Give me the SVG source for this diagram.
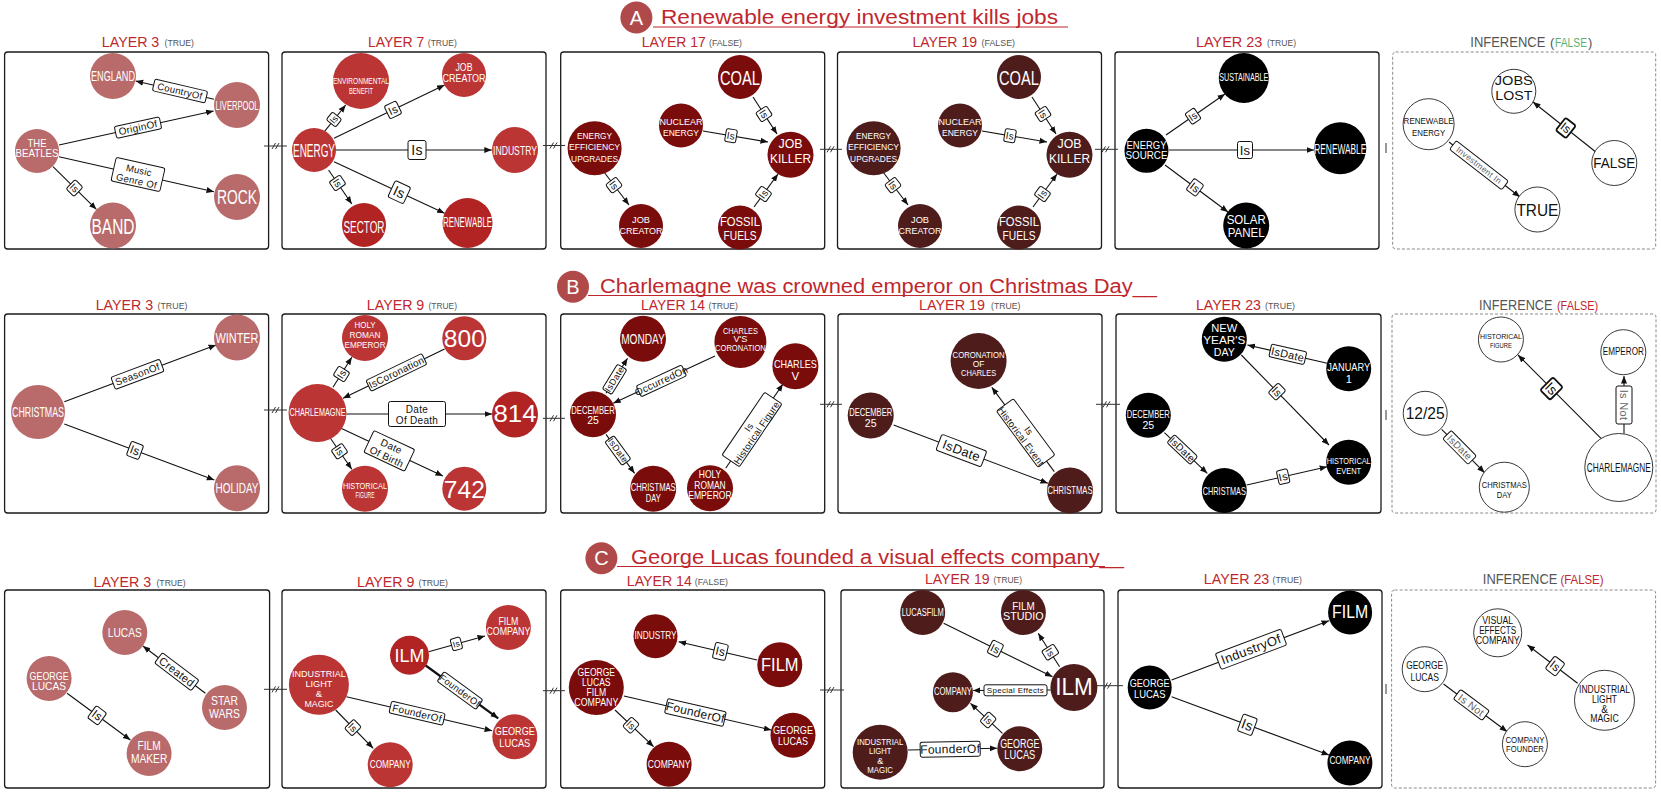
<svg xmlns="http://www.w3.org/2000/svg" width="1661" height="804" viewBox="0 0 1661 804">
<defs>
<marker id="ah" markerUnits="userSpaceOnUse" markerWidth="8" markerHeight="7" refX="7.5" refY="3.5" orient="auto"><path d="M0,0.5 L7.5,3.5 L0,6.5 z" fill="#111"/></marker>
<style>
text{font-family:"Liberation Sans",Arial,sans-serif}
.pn{fill:#fff;stroke:#1a1a1a;stroke-width:1.3}
.pi{fill:#fff;stroke:#8a8a8a;stroke-width:1;stroke-dasharray:3 2}
.e{stroke:#111;stroke-width:1.1;fill:none;marker-end:url(#ah)}
.eb{stroke-width:2.2}
.lb rect{fill:#fff;stroke:#111;stroke-width:1}
.lb text{fill:#111;text-anchor:middle;dominant-baseline:central;letter-spacing:0.3px}
.lg text{fill:#666}
.lk rect{stroke-width:1.8}
.n text{fill:#fff;text-anchor:middle}
.c3 circle{fill:#b96b6b}
.c9 circle{fill:#bb3535}
.c9d circle{fill:#b22424}
.c14 circle{fill:#7b0c0c}
.c19 circle{fill:#4f1c1c}
.c23 circle{fill:#000}
.ci circle{fill:#fff;stroke:#222;stroke-width:0.9}
.ci text{fill:#111}
.lt{fill:#c0272d;font-size:15px}
.st{fill:#555;font-size:9px}
.inf{fill:#555;font-size:15px}
.hd{fill:#c0272d;font-size:19.5px}
.ul{stroke:#c0272d;stroke-width:1.2}
.bd circle{fill:#b04a4a}
.bd text{fill:#fff;font-size:20px;text-anchor:middle}
.sep{stroke:#333;stroke-width:1;fill:none}
</style>
</defs>
<rect width="1661" height="804" fill="#fff"/>

<g id="headings">
<g class="bd"><circle cx="636.4" cy="17.5" r="16"/><text x="636.4" y="24.5">A</text></g>
<text class="hd" x="661" y="24" textLength="397" lengthAdjust="spacingAndGlyphs">Renewable energy investment kills jobs</text>
<line class="ul" x1="653" y1="27" x2="1068" y2="27"/>
<g class="bd"><circle cx="573" cy="286.7" r="16"/><text x="573" y="293.7">B</text></g>
<text class="hd" x="600" y="293" textLength="557" lengthAdjust="spacingAndGlyphs">Charlemagne was crowned emperor on Christmas Day__</text>
<line class="ul" x1="588" y1="295.5" x2="1127" y2="295.5"/>
<g class="bd"><circle cx="601.4" cy="558.3" r="16"/><text x="601.4" y="565.3">C</text></g>
<text class="hd" x="631" y="564" textLength="493" lengthAdjust="spacingAndGlyphs">George Lucas founded a visual effects company__</text>
<line class="ul" x1="617" y1="566.5" x2="1105" y2="566.5"/>
</g>

<g id="titles">
<text class="lt" x="101.8" y="47" textLength="57.5" lengthAdjust="spacingAndGlyphs">LAYER 3</text><text class="st" x="164.5" y="46" textLength="29.5" lengthAdjust="spacingAndGlyphs">(TRUE)</text>
<text class="lt" x="367.9" y="47" textLength="56.5" lengthAdjust="spacingAndGlyphs">LAYER 7</text><text class="st" x="427.8" y="46" textLength="29" lengthAdjust="spacingAndGlyphs">(TRUE)</text>
<text class="lt" x="641.8" y="47" textLength="64" lengthAdjust="spacingAndGlyphs">LAYER 17</text><text class="st" x="709" y="46" textLength="33" lengthAdjust="spacingAndGlyphs">(FALSE)</text>
<text class="lt" x="912.5" y="47" textLength="64.5" lengthAdjust="spacingAndGlyphs">LAYER 19</text><text class="st" x="981.5" y="46" textLength="33.5" lengthAdjust="spacingAndGlyphs">(FALSE)</text>
<text class="lt" x="1195.9" y="47" textLength="66.5" lengthAdjust="spacingAndGlyphs">LAYER 23</text><text class="st" x="1267" y="46" textLength="29" lengthAdjust="spacingAndGlyphs">(TRUE)</text>
<text class="inf" x="1470.3" y="47" textLength="75" lengthAdjust="spacingAndGlyphs">INFERENCE</text>
<text x="1550" y="47" font-size="13" fill="#555">(</text>
<text x="1555" y="47" font-size="13" fill="#5cb270" textLength="32" lengthAdjust="spacingAndGlyphs">FALSE</text>
<text x="1588" y="47" font-size="13" fill="#555">)</text>

<text class="lt" x="95.7" y="309.5" textLength="57.5" lengthAdjust="spacingAndGlyphs">LAYER 3</text><text class="st" x="157.5" y="308.5" textLength="30" lengthAdjust="spacingAndGlyphs">(TRUE)</text>
<text class="lt" x="366.8" y="309.5" textLength="57.5" lengthAdjust="spacingAndGlyphs">LAYER 9</text><text class="st" x="428.5" y="308.5" textLength="28.5" lengthAdjust="spacingAndGlyphs">(TRUE)</text>
<text class="lt" x="641" y="309.5" textLength="64" lengthAdjust="spacingAndGlyphs">LAYER 14</text><text class="st" x="708.5" y="308.5" textLength="29.5" lengthAdjust="spacingAndGlyphs">(TRUE)</text>
<text class="lt" x="919" y="309.5" textLength="66" lengthAdjust="spacingAndGlyphs">LAYER 19</text><text class="st" x="991" y="308.5" textLength="29.4" lengthAdjust="spacingAndGlyphs">(TRUE)</text>
<text class="lt" x="1195.9" y="309.5" textLength="65" lengthAdjust="spacingAndGlyphs">LAYER 23</text><text class="st" x="1265" y="308.5" textLength="30" lengthAdjust="spacingAndGlyphs">(TRUE)</text>
<text class="inf" x="1479" y="309.5" textLength="73.5" lengthAdjust="spacingAndGlyphs">INFERENCE</text>
<text x="1557" y="309.5" font-size="13" fill="#c0272d" textLength="41" lengthAdjust="spacingAndGlyphs">(FALSE)</text>

<text class="lt" x="93.6" y="587" textLength="57.5" lengthAdjust="spacingAndGlyphs">LAYER 3</text><text class="st" x="156.5" y="586" textLength="29.2" lengthAdjust="spacingAndGlyphs">(TRUE)</text>
<text class="lt" x="357" y="587" textLength="57.5" lengthAdjust="spacingAndGlyphs">LAYER 9</text><text class="st" x="418.5" y="586" textLength="29.5" lengthAdjust="spacingAndGlyphs">(TRUE)</text>
<text class="lt" x="626.8" y="586" textLength="65" lengthAdjust="spacingAndGlyphs">LAYER 14</text><text class="st" x="694.8" y="585" textLength="33.2" lengthAdjust="spacingAndGlyphs">(FALSE)</text>
<text class="lt" x="925" y="583.5" textLength="64.5" lengthAdjust="spacingAndGlyphs">LAYER 19</text><text class="st" x="993.5" y="582.5" textLength="28.5" lengthAdjust="spacingAndGlyphs">(TRUE)</text>
<text class="lt" x="1203.8" y="583.5" textLength="65.5" lengthAdjust="spacingAndGlyphs">LAYER 23</text><text class="st" x="1272.5" y="582.5" textLength="29.5" lengthAdjust="spacingAndGlyphs">(TRUE)</text>
<text class="inf" x="1482.8" y="583.5" textLength="74.5" lengthAdjust="spacingAndGlyphs">INFERENCE</text>
<text x="1560.5" y="583.5" font-size="13" fill="#c0272d" textLength="43" lengthAdjust="spacingAndGlyphs">(FALSE)</text>
</g>

<g id="panels">
<rect class="pn" x="4.6" y="52" width="264" height="197" rx="3"/>
<rect class="pn" x="282" y="52" width="264" height="197" rx="3"/>
<rect class="pn" x="560.7" y="52" width="264" height="197" rx="3"/>
<rect class="pn" x="837.5" y="52" width="264" height="197" rx="3"/>
<rect class="pn" x="1115" y="52" width="264" height="197" rx="3"/>
<rect class="pi" x="1392.7" y="52" width="263" height="197" rx="3"/>
<rect class="pn" x="4.6" y="314" width="264" height="199" rx="3"/>
<rect class="pn" x="282" y="314" width="264" height="199" rx="3"/>
<rect class="pn" x="560.7" y="314" width="264" height="199" rx="3"/>
<rect class="pn" x="838" y="314" width="264" height="199" rx="3"/>
<rect class="pn" x="1116" y="314" width="265" height="199" rx="3"/>
<rect class="pi" x="1392" y="314" width="264" height="199" rx="3"/>
<rect class="pn" x="4.6" y="590" width="265" height="198" rx="3"/>
<rect class="pn" x="282" y="590" width="264" height="198" rx="3"/>
<rect class="pn" x="560.7" y="590" width="264" height="198" rx="3"/>
<rect class="pn" x="841" y="590" width="263" height="198" rx="3"/>
<rect class="pn" x="1118" y="590" width="264" height="198" rx="3"/>
<rect class="pi" x="1391.6" y="590" width="264" height="198" rx="3"/>
</g>

<g id="separators" class="sep">
<path d="M264,146H287M272,149L275.5,143M275.5,149L279,143"/>
<path d="M543,145.5H565M550,148.5L553.5,142.5M553.5,148.5L557,142.5"/>
<path d="M820,149.3H842M827,152.3L830.5,146.3M830.5,152.3L834,146.3"/>
<path d="M1095,149.3H1118M1102,152.3L1105.5,146.3M1105.5,152.3L1109,146.3"/>
<path d="M1386,143V153"/>
<path d="M264,410H287M272,413L275.5,407M275.5,413L279,407"/>
<path d="M543,418.3H565M550,421.3L553.5,415.3M553.5,421.3L557,415.3"/>
<path d="M820,404.3H842M827,407.3L830.5,401.3M830.5,407.3L834,401.3"/>
<path d="M1096,404.3H1120M1103,407.3L1106.5,401.3M1106.5,407.3L1110,401.3"/>
<path d="M1386,410V420"/>
<path d="M264,689.3H287M272,692.3L275.5,686.3M275.5,692.3L279,686.3"/>
<path d="M543,690.7H565M550,693.7L553.5,687.7M553.5,693.7L557,687.7"/>
<path d="M820,690H844M827,693L830.5,687M830.5,693L834,687"/>
<path d="M1097,685.7H1123M1104,688.7L1107.5,682.7M1107.5,688.7L1111,682.7"/>
<path d="M1386,684V694"/>
</g>

<g id="connectors">
<line class="e" x1="214" y1="99.3" x2="135.7" y2="81"/>
<line class="e" x1="59" y1="145" x2="213.6" y2="111"/>
<line class="e" x1="59" y1="156.7" x2="214" y2="191.7"/>
<line class="e" x1="53" y1="166.7" x2="96.4" y2="209.3"/>
<line class="e" x1="323" y1="133.3" x2="345.7" y2="105"/>
<line class="e" x1="334" y1="138.3" x2="444.6" y2="85"/>
<line class="e" x1="335.7" y1="150" x2="491.8" y2="150"/>
<line class="e" x1="328.6" y1="170" x2="351.8" y2="204"/>
<line class="e" x1="334" y1="161.7" x2="444.6" y2="213.3"/>
<line class="e" x1="753" y1="97" x2="777" y2="134"/>
<line class="e" x1="703" y1="131" x2="768" y2="142"/>
<line class="e" x1="754" y1="207" x2="778" y2="174"/>
<line class="e" x1="604" y1="172" x2="629" y2="205"/>
<line class="e" x1="1032" y1="97" x2="1056" y2="134"/>
<line class="e" x1="982" y1="131" x2="1047" y2="142"/>
<line class="e" x1="1033" y1="207" x2="1057" y2="174"/>
<line class="e" x1="883" y1="172" x2="908" y2="205"/>
<line class="e" x1="1166" y1="135" x2="1225" y2="94"/>
<line class="e" x1="1169" y1="150" x2="1314" y2="150"/>
<line class="e" x1="1165" y1="165" x2="1228" y2="212"/>
<line class="e" x1="1595.5" y1="151.7" x2="1533" y2="102"/>
<line class="e" x1="1449" y1="142" x2="1520" y2="197"/>

<line class="e" x1="64.3" y1="401.7" x2="216" y2="345"/>
<line class="e" x1="64.3" y1="424" x2="214.3" y2="480"/>
<line class="e" x1="333" y1="387.3" x2="351.8" y2="357.3"/>
<line class="e" x1="444.6" y1="349" x2="343" y2="398.3"/>
<line class="e" x1="346.4" y1="414" x2="492.1" y2="414"/>
<line class="e" x1="341" y1="428.3" x2="442.9" y2="476"/>
<line class="e" x1="330.4" y1="438.3" x2="351.8" y2="469.3"/>
<line class="e" x1="606" y1="393.3" x2="627.5" y2="358.3"/>
<line class="e" x1="715" y1="356" x2="613.2" y2="403.3"/>
<line class="e" x1="606" y1="434.3" x2="634.6" y2="473.3"/>
<line class="e" x1="725.7" y1="468.3" x2="782.9" y2="384"/>
<line class="e" x1="893.6" y1="425" x2="1047.9" y2="483.3"/>
<line class="e" x1="1054.3" y1="471.7" x2="991.8" y2="387.3"/>
<line class="e" x1="1327.2" y1="363.3" x2="1247.4" y2="345"/>
<line class="e" x1="1241.3" y1="355" x2="1329" y2="445"/>
<line class="e" x1="1164.4" y1="432.7" x2="1207.3" y2="473.3"/>
<line class="e" x1="1246.7" y1="485" x2="1327.2" y2="466.7"/>
<line class="e" x1="1601" y1="438.3" x2="1518" y2="355"/>
<line class="e" x1="1624" y1="433.5" x2="1624" y2="376"/>
<line class="e" x1="1441.7" y1="429.3" x2="1484.6" y2="472.7"/>

<line class="e" x1="205.4" y1="693.3" x2="142.9" y2="646"/>
<line class="e" x1="67.1" y1="693.3" x2="130.4" y2="740"/>
<line class="e" x1="428.6" y1="651.7" x2="485" y2="636"/>
<line class="e eb" x1="425" y1="665" x2="498.2" y2="718.3"/>
<line class="e" x1="346.4" y1="696.7" x2="492.1" y2="730.7"/>
<line class="e" x1="335.7" y1="710" x2="373.2" y2="748.3"/>
<line class="e" x1="757.1" y1="660" x2="678.6" y2="641.7"/>
<line class="e" x1="623.9" y1="696" x2="771.4" y2="730"/>
<line class="e" x1="615" y1="710" x2="653.6" y2="746.7"/>
<line class="e" x1="943.6" y1="623.3" x2="1052.5" y2="676.7"/>
<line class="e" x1="1059.6" y1="666.7" x2="1038.2" y2="633.3"/>
<line class="e" x1="1050.7" y1="690" x2="972.9" y2="690.5"/>
<line class="e" x1="1002.5" y1="733.3" x2="970.4" y2="703.3"/>
<line class="e" x1="907.9" y1="750" x2="997.1" y2="748.3"/>
<line class="e" x1="1171.6" y1="680" x2="1329" y2="620.7"/>
<line class="e" x1="1171.6" y1="696.7" x2="1329" y2="755"/>
<line class="e" x1="1577.6" y1="683.3" x2="1527.5" y2="645"/>
<line class="e" x1="1443.5" y1="684" x2="1507.2" y2="731.7"/>

<g class="lb" transform="translate(180,91) rotate(13.2)"><rect x="-27" y="-6" width="54" height="12" rx="2"/><text font-size="9.5">CountryOf</text></g>
<g class="lb" transform="translate(138,127.6) rotate(-12.4)"><rect x="-23" y="-6" width="46" height="12" rx="2"/><text font-size="10">OriginOf</text></g>
<g class="lb" transform="translate(138,174.5) rotate(12.7)"><rect x="-25" y="-12" width="50" height="24" rx="2"/><text font-size="9.5"><tspan x="0" y="-5">Music</tspan><tspan x="0" y="6">Genre Of</tspan></text></g>
<g class="lb" transform="translate(74.5,188) rotate(44.4)"><rect x="-5.5" y="-6.5" width="11" height="13" rx="2"/><text font-size="10">Is</text></g>
<g class="lb" transform="translate(334,119.5) rotate(-51.3)"><rect x="-5" y="-6" width="10" height="12" rx="2"/><text font-size="9">Is</text></g>
<g class="lb" transform="translate(393,109.9) rotate(-25.7)"><rect x="-6.5" y="-7" width="13" height="14" rx="2"/><text font-size="11">Is</text></g>
<g class="lb" transform="translate(417,150)"><rect x="-9" y="-9.5" width="18" height="19" rx="2"/><text font-size="14">Is</text></g>
<g class="lb" transform="translate(337.5,183) rotate(55.7)"><rect x="-5.5" y="-6.5" width="11" height="13" rx="2"/><text font-size="10">Is</text></g>
<g class="lb" transform="translate(399.3,192.2) rotate(25)"><rect x="-8.5" y="-9" width="17" height="18" rx="2"/><text font-size="14">Is</text></g>
<g class="lb" transform="translate(764,114) rotate(57)"><rect x="-5.5" y="-6.5" width="11" height="13" rx="2"/><text font-size="10">Is</text></g>
<g class="lb" transform="translate(731,135.7) rotate(9.6)"><rect x="-5.5" y="-6.5" width="11" height="13" rx="2"/><text font-size="10">Is</text></g>
<g class="lb" transform="translate(763.5,194) rotate(-54)"><rect x="-5.5" y="-6.5" width="11" height="13" rx="2"/><text font-size="10">Is</text></g>
<g class="lb" transform="translate(614,185.2) rotate(52.9)"><rect x="-5.5" y="-6.5" width="11" height="13" rx="2"/><text font-size="10">Is</text></g>
<g class="lb" transform="translate(1043,114) rotate(57)"><rect x="-5.5" y="-6.5" width="11" height="13" rx="2"/><text font-size="10">Is</text></g>
<g class="lb" transform="translate(1010,135.7) rotate(9.6)"><rect x="-5.5" y="-6.5" width="11" height="13" rx="2"/><text font-size="10">Is</text></g>
<g class="lb" transform="translate(1042.5,194) rotate(-54)"><rect x="-5.5" y="-6.5" width="11" height="13" rx="2"/><text font-size="10">Is</text></g>
<g class="lb" transform="translate(893,185.2) rotate(52.9)"><rect x="-5.5" y="-6.5" width="11" height="13" rx="2"/><text font-size="10">Is</text></g>
<g class="lb" transform="translate(1193,116.2) rotate(-34.8)"><rect x="-5.5" y="-6.5" width="11" height="13" rx="2"/><text font-size="10">Is</text></g>
<g class="lb" transform="translate(1245,150)"><rect x="-7.5" y="-8.5" width="15" height="17" rx="2"/><text font-size="13">Is</text></g>
<g class="lb" transform="translate(1195,187.4) rotate(36.7)"><rect x="-6" y="-7" width="12" height="14" rx="2"/><text font-size="11">Is</text></g>
<g class="lb lk" transform="translate(1565.8,128) rotate(38.5)"><rect x="-6.5" y="-8" width="13" height="16" rx="2"/><text font-size="12">Is</text></g>
<g class="lb lg" transform="translate(1479,165.2) rotate(37.8)"><rect x="-33" y="-5.5" width="66" height="11" rx="2"/><text font-size="8.5">Investment In</text></g>

<g class="lb" transform="translate(137.5,374.3) rotate(-20.5)"><rect x="-26" y="-6.5" width="52" height="13" rx="2"/><text font-size="10">SeasonOf</text></g>
<g class="lb" transform="translate(135,450.4) rotate(20.5)"><rect x="-6.5" y="-7.5" width="13" height="15" rx="2"/><text font-size="12">Is</text></g>
<g class="lb" transform="translate(341.5,374) rotate(-57.9)"><rect x="-5.5" y="-6.5" width="11" height="13" rx="2"/><text font-size="10">Is</text></g>
<g class="lb" transform="translate(396.4,372.4) rotate(-25.9)"><rect x="-31" y="-6" width="62" height="12" rx="2"/><text font-size="10">IsCoronation</text></g>
<g class="lb" transform="translate(417,414)"><rect x="-28.5" y="-12.5" width="57" height="25" rx="2"/><text font-size="10"><tspan x="0" y="-5.5">Date</tspan><tspan x="0" y="6">Of Death</tspan></text></g>
<g class="lb" transform="translate(389.3,450.9) rotate(25.1)"><rect x="-22.5" y="-12" width="45" height="24" rx="2"/><text font-size="10"><tspan x="0" y="-5.5">Date</tspan><tspan x="0" y="6">Of Birth</tspan></text></g>
<g class="lb" transform="translate(339.5,451.3) rotate(55.4)"><rect x="-5.5" y="-6.5" width="11" height="13" rx="2"/><text font-size="10">Is</text></g>
<g class="lb" transform="translate(614.6,379.3) rotate(-58.4)"><rect x="-14.5" y="-5.5" width="29" height="11" rx="2"/><text font-size="9">IsDate</text></g>
<g class="lb" transform="translate(661.4,380.9) rotate(-24.9)"><rect x="-25" y="-6" width="50" height="12" rx="2"/><text font-size="10">OccurredOn</text></g>
<g class="lb" transform="translate(617.9,450.5) rotate(53.7)"><rect x="-14.5" y="-5.5" width="29" height="11" rx="2"/><text font-size="9">IsDate</text></g>
<g class="lb" transform="translate(752,429.5) rotate(-55.8)"><rect x="-38" y="-10.5" width="76" height="21" rx="2"/><text font-size="9.5"><tspan x="0" y="-4.5">Is</tspan><tspan x="0" y="5">Historical Figure</tspan></text></g>
<g class="lb" transform="translate(961.4,450.6) rotate(20.7)"><rect x="-24" y="-8.5" width="48" height="17" rx="2"/><text font-size="13">IsDate</text></g>
<g class="lb" transform="translate(1025.7,433) rotate(53.5)"><rect x="-35" y="-10.5" width="70" height="21" rx="2"/><text font-size="9.5"><tspan x="0" y="-4.5">Is</tspan><tspan x="0" y="5">Historical Event</tspan></text></g>
<g class="lb" transform="translate(1287.8,354.3) rotate(12.9)"><rect x="-18" y="-6.5" width="36" height="13" rx="2"/><text font-size="11">IsDate</text></g>
<g class="lb" transform="translate(1277,391.6) rotate(45.7)"><rect x="-5.5" y="-7" width="11" height="14" rx="2"/><text font-size="11">Is</text></g>
<g class="lb" transform="translate(1182.3,449.6) rotate(43.4)"><rect x="-16" y="-5.5" width="32" height="11" rx="2"/><text font-size="10">IsDate</text></g>
<g class="lb" transform="translate(1283.2,476.7) rotate(-12.8)"><rect x="-5.5" y="-7" width="11" height="14" rx="2"/><text font-size="11">Is</text></g>
<g class="lb lk" transform="translate(1551.5,388.6) rotate(45.1)"><rect x="-7" y="-9" width="14" height="18" rx="2"/><text font-size="14">Is</text></g>
<g class="lb lg" transform="translate(1624,405) rotate(90)"><rect x="-19" y="-8" width="38" height="16" rx="2"/><text font-size="11">Is Not</text></g>
<g class="lb lg" transform="translate(1459.6,447.4) rotate(45.3)"><rect x="-18" y="-6" width="36" height="12" rx="2"/><text font-size="10">IsDate</text></g>

<g class="lb" transform="translate(176.8,671.7) rotate(37.1)"><rect x="-23" y="-6.5" width="46" height="13" rx="2"/><text font-size="11">Created</text></g>
<g class="lb" transform="translate(97.1,715.4) rotate(36.4)"><rect x="-6.5" y="-7.5" width="13" height="15" rx="2"/><text font-size="12">Is</text></g>
<g class="lb" transform="translate(456.4,643.9) rotate(-15.6)"><rect x="-5" y="-6" width="10" height="12" rx="2"/><text font-size="8.5">Is</text></g>
<g class="lb" transform="translate(460,690.5) rotate(36.1)"><rect x="-24" y="-6" width="48" height="12" rx="2"/><text font-size="9.5">FounderOf</text></g>
<g class="lb" transform="translate(417.1,713.2) rotate(13.1)"><rect x="-27.5" y="-6" width="55" height="12" rx="2"/><text font-size="10">FounderOf</text></g>
<g class="lb" transform="translate(352.9,727.6) rotate(45.6)"><rect x="-5.5" y="-6.5" width="11" height="13" rx="2"/><text font-size="10">Is</text></g>
<g class="lb" transform="translate(720.4,651.4) rotate(13.1)"><rect x="-6.5" y="-8" width="13" height="16" rx="2"/><text font-size="12">Is</text></g>
<g class="lb" transform="translate(695.4,712.5) rotate(13)"><rect x="-30" y="-7.5" width="60" height="15" rx="2"/><text font-size="12">FounderOf</text></g>
<g class="lb" transform="translate(631,725.2) rotate(43.6)"><rect x="-5.5" y="-6.5" width="11" height="13" rx="2"/><text font-size="10">Is</text></g>
<g class="lb" transform="translate(995.4,648.7) rotate(26.1)"><rect x="-6" y="-7" width="12" height="14" rx="2"/><text font-size="11">Is</text></g>
<g class="lb" transform="translate(1050.3,652.2) rotate(57.4)"><rect x="-5.5" y="-7" width="11" height="14" rx="2"/><text font-size="10">Is</text></g>
<g class="lb" transform="translate(1015.5,690.3)"><rect x="-31.5" y="-5.5" width="63" height="11" rx="2"/><text font-size="8">Special Effects</text></g>
<g class="lb" transform="translate(988.2,720) rotate(43)"><rect x="-5.5" y="-6.5" width="11" height="13" rx="2"/><text font-size="10">Is</text></g>
<g class="lb" transform="translate(950.2,749.2) rotate(-1.1)"><rect x="-30" y="-7.5" width="60" height="15" rx="2"/><text font-size="12">FounderOf</text></g>
<g class="lb" transform="translate(1251,649.3) rotate(-20.6)"><rect x="-35" y="-8.5" width="70" height="17" rx="2"/><text font-size="13">IndustryOf</text></g>
<g class="lb" transform="translate(1247.4,724.8) rotate(20.3)"><rect x="-7.5" y="-9" width="15" height="18" rx="2"/><text font-size="14">Is</text></g>
<g class="lb" transform="translate(1555.1,666.1) rotate(37.4)"><rect x="-6.5" y="-8" width="13" height="16" rx="2"/><text font-size="12">Is</text></g>
<g class="lb lg" transform="translate(1471.4,704.9) rotate(36.8)"><rect x="-18" y="-6" width="36" height="12" rx="2"/><text font-size="10.5">Is Not</text></g>
</g>

<g id="a1-england" class="n c3"><circle cx="113" cy="76" r="23"/><text x="113" y="80.9" font-size="14" textLength="44" lengthAdjust="spacingAndGlyphs">ENGLAND</text></g>
<g id="a1-liverpool" class="n c3"><circle cx="237" cy="105" r="23"/><text x="237" y="109.6" font-size="13" textLength="43" lengthAdjust="spacingAndGlyphs">LIVERPOOL</text></g>
<g id="a1-beatles" class="n c3"><circle cx="37" cy="151" r="22"/><text x="37" y="146.5" font-size="11" textLength="19" lengthAdjust="spacingAndGlyphs">THE</text><text x="37" y="157.2" font-size="11" textLength="43" lengthAdjust="spacingAndGlyphs">BEATLES</text></g>
<g id="a1-rock" class="n c3"><circle cx="237" cy="197" r="23"/><text x="237" y="204.1" font-size="21" textLength="40" lengthAdjust="spacingAndGlyphs">ROCK</text></g>
<g id="a1-band" class="n c3"><circle cx="113" cy="225.5" r="23"/><text x="113" y="233.7" font-size="22" textLength="43" lengthAdjust="spacingAndGlyphs">BAND</text></g>

<g id="a2-energy" class="n c9"><circle cx="314" cy="150" r="22"/><text x="314" y="157" font-size="18" textLength="42" lengthAdjust="spacingAndGlyphs">ENERGY</text></g>
<g id="a2-env" class="n c9"><circle cx="361" cy="81" r="28"/><text x="361" y="83.7" font-size="8.5" textLength="56" lengthAdjust="spacingAndGlyphs">ENVIRONMENTAL</text><text x="361" y="94" font-size="8.5" textLength="24" lengthAdjust="spacingAndGlyphs">BENEFIT</text></g>
<g id="a2-jobcreator" class="n c9"><circle cx="464" cy="75" r="22"/><text x="464" y="71.2" font-size="10" textLength="17" lengthAdjust="spacingAndGlyphs">JOB</text><text x="464" y="81.8" font-size="10" textLength="43" lengthAdjust="spacingAndGlyphs">CREATOR</text></g>
<g id="a2-industry" class="n c9"><circle cx="515" cy="150" r="23"/><text x="515" y="155.2" font-size="13" textLength="44" lengthAdjust="spacingAndGlyphs">INDUSTRY</text></g>
<g id="a2-sector" class="n c9d"><circle cx="364" cy="225" r="22"/><text x="364" y="232.6" font-size="17" textLength="41" lengthAdjust="spacingAndGlyphs">SECTOR</text></g>
<g id="a2-renewable" class="n c9d"><circle cx="467.5" cy="223" r="25"/><text x="467.5" y="227.3" font-size="15" textLength="49" lengthAdjust="spacingAndGlyphs">RENEWABLE</text></g>

<g id="a3-coal" class="n c14"><circle cx="740" cy="77" r="22"/><text x="740" y="84.7" font-size="21" textLength="40" lengthAdjust="spacingAndGlyphs">COAL</text></g>
<g id="a3-nuclear" class="n c14"><circle cx="681" cy="125.5" r="22"/><text x="681" y="125" font-size="9.5" textLength="43" lengthAdjust="spacingAndGlyphs">NUCLEAR</text><text x="681" y="135.6" font-size="9.5" textLength="36" lengthAdjust="spacingAndGlyphs">ENERGY</text></g>
<g id="a3-jobkiller" class="n c14"><circle cx="790.5" cy="154.7" r="23"/><text x="790.5" y="148.4" font-size="12.5" textLength="24" lengthAdjust="spacingAndGlyphs">JOB</text><text x="790.5" y="162.7" font-size="12.5" textLength="41" lengthAdjust="spacingAndGlyphs">KILLER</text></g>
<g id="a3-eeu" class="n c14"><circle cx="594.6" cy="148.3" r="27"/><text x="594.6" y="139.3" font-size="9.5" textLength="35" lengthAdjust="spacingAndGlyphs">ENERGY</text><text x="594.6" y="150.3" font-size="9.5" textLength="51" lengthAdjust="spacingAndGlyphs">EFFICIENCY</text><text x="594.6" y="161.6" font-size="9.5" textLength="47" lengthAdjust="spacingAndGlyphs">UPGRADES</text></g>
<g id="a3-jobcreator" class="n c14"><circle cx="641" cy="226" r="22"/><text x="641" y="223.3" font-size="9.5" textLength="18" lengthAdjust="spacingAndGlyphs">JOB</text><text x="641" y="234" font-size="9.5" textLength="43" lengthAdjust="spacingAndGlyphs">CREATOR</text></g>
<g id="a3-fossil" class="n c14"><circle cx="740" cy="227.5" r="22"/><text x="740" y="226.2" font-size="13" textLength="40" lengthAdjust="spacingAndGlyphs">FOSSIL</text><text x="740" y="239.5" font-size="13" textLength="33" lengthAdjust="spacingAndGlyphs">FUELS</text></g>

<g id="a4-coal" class="n c19"><circle cx="1019" cy="77" r="22"/><text x="1019" y="84.7" font-size="21" textLength="40" lengthAdjust="spacingAndGlyphs">COAL</text></g>
<g id="a4-nuclear" class="n c19"><circle cx="960" cy="125.5" r="22"/><text x="960" y="125" font-size="9.5" textLength="43" lengthAdjust="spacingAndGlyphs">NUCLEAR</text><text x="960" y="135.6" font-size="9.5" textLength="36" lengthAdjust="spacingAndGlyphs">ENERGY</text></g>
<g id="a4-jobkiller" class="n c19"><circle cx="1069.5" cy="154.7" r="23"/><text x="1069.5" y="148.4" font-size="12.5" textLength="24" lengthAdjust="spacingAndGlyphs">JOB</text><text x="1069.5" y="162.7" font-size="12.5" textLength="41" lengthAdjust="spacingAndGlyphs">KILLER</text></g>
<g id="a4-eeu" class="n c19"><circle cx="873.6" cy="148.3" r="27"/><text x="873.6" y="139.3" font-size="9.5" textLength="35" lengthAdjust="spacingAndGlyphs">ENERGY</text><text x="873.6" y="150.3" font-size="9.5" textLength="51" lengthAdjust="spacingAndGlyphs">EFFICIENCY</text><text x="873.6" y="161.6" font-size="9.5" textLength="47" lengthAdjust="spacingAndGlyphs">UPGRADES</text></g>
<g id="a4-jobcreator" class="n c19"><circle cx="920" cy="226" r="22"/><text x="920" y="223.3" font-size="9.5" textLength="18" lengthAdjust="spacingAndGlyphs">JOB</text><text x="920" y="234" font-size="9.5" textLength="43" lengthAdjust="spacingAndGlyphs">CREATOR</text></g>
<g id="a4-fossil" class="n c19"><circle cx="1019" cy="227.5" r="22"/><text x="1019" y="226.2" font-size="13" textLength="40" lengthAdjust="spacingAndGlyphs">FOSSIL</text><text x="1019" y="239.5" font-size="13" textLength="33" lengthAdjust="spacingAndGlyphs">FUELS</text></g>

<g id="a5-sustainable" class="n c23"><circle cx="1243.8" cy="78" r="25"/><text x="1243.8" y="80.8" font-size="10" textLength="49" lengthAdjust="spacingAndGlyphs">SUSTAINABLE</text></g>
<g id="a5-source" class="n c23"><circle cx="1146.5" cy="150.8" r="22"/><text x="1146.5" y="149.4" font-size="10.5" textLength="40" lengthAdjust="spacingAndGlyphs">ENERGY</text><text x="1146.5" y="159.4" font-size="10.5" textLength="42" lengthAdjust="spacingAndGlyphs">SOURCE</text></g>
<g id="a5-renewable" class="n c23"><circle cx="1340.3" cy="148.3" r="26"/><text x="1340.3" y="154.3" font-size="15" textLength="52" lengthAdjust="spacingAndGlyphs">RENEWABLE</text></g>
<g id="a5-solar" class="n c23"><circle cx="1246.2" cy="225.5" r="23"/><text x="1246.2" y="224.2" font-size="12" textLength="39" lengthAdjust="spacingAndGlyphs">SOLAR</text><text x="1246.2" y="236.5" font-size="12" textLength="37" lengthAdjust="spacingAndGlyphs">PANEL</text></g>

<g id="a6-jobslost" class="n ci"><circle cx="1513.8" cy="91.3" r="22"/><text x="1513.8" y="85.1" font-size="12.5" textLength="38" lengthAdjust="spacingAndGlyphs">JOBS</text><text x="1513.8" y="100.4" font-size="12.5" textLength="37" lengthAdjust="spacingAndGlyphs">LOST</text></g>
<g id="a6-renewable" class="n ci"><circle cx="1428.6" cy="124.2" r="25.5"/><text x="1428.6" y="124" font-size="9.5" textLength="50" lengthAdjust="spacingAndGlyphs">RENEWABLE</text><text x="1428.6" y="135.6" font-size="9.5" textLength="33" lengthAdjust="spacingAndGlyphs">ENERGY</text></g>
<g id="a6-false" class="n ci"><circle cx="1614.3" cy="163" r="22.5"/><text x="1614.3" y="168.3" font-size="15" textLength="42" lengthAdjust="spacingAndGlyphs">FALSE</text></g>
<g id="a6-true" class="n ci"><circle cx="1537.4" cy="209.5" r="22.5"/><text x="1537.4" y="216" font-size="17" textLength="42" lengthAdjust="spacingAndGlyphs">TRUE</text></g>

<g id="b1-winter" class="n c3"><circle cx="237" cy="337.5" r="23"/><text x="237" y="343" font-size="15" textLength="43" lengthAdjust="spacingAndGlyphs">WINTER</text></g>
<g id="b1-christmas" class="n c3"><circle cx="38" cy="412" r="27"/><text x="38" y="417.2" font-size="14" textLength="52" lengthAdjust="spacingAndGlyphs">CHRISTMAS</text></g>
<g id="b1-holiday" class="n c3"><circle cx="237" cy="488.3" r="23"/><text x="237" y="493.2" font-size="14" textLength="43" lengthAdjust="spacingAndGlyphs">HOLIDAY</text></g>

<g id="b2-hre" class="n c9"><circle cx="365" cy="338" r="23"/><text x="365" y="328" font-size="8.5" textLength="21" lengthAdjust="spacingAndGlyphs">HOLY</text><text x="365" y="338" font-size="8.5" textLength="31" lengthAdjust="spacingAndGlyphs">ROMAN</text><text x="365" y="348" font-size="8.5" textLength="41" lengthAdjust="spacingAndGlyphs">EMPEROR</text></g>
<g id="b2-800" class="n c9"><circle cx="464.3" cy="338.3" r="22"/><text x="464.3" y="346.7" font-size="24" textLength="41" lengthAdjust="spacingAndGlyphs">800</text></g>
<g id="b2-charlemagne" class="n c9"><circle cx="317.5" cy="413" r="29"/><text x="317.5" y="416.2" font-size="10" textLength="56" lengthAdjust="spacingAndGlyphs">CHARLEMAGNE</text></g>
<g id="b2-814" class="n c9d"><circle cx="515" cy="414.5" r="23"/><text x="515" y="422.4" font-size="24" textLength="43" lengthAdjust="spacingAndGlyphs">814</text></g>
<g id="b2-hf" class="n c9"><circle cx="365" cy="488.7" r="23"/><text x="365" y="489" font-size="8.5" textLength="44" lengthAdjust="spacingAndGlyphs">HISTORICAL</text><text x="365" y="498" font-size="8.5" textLength="19" lengthAdjust="spacingAndGlyphs">FIGURE</text></g>
<g id="b2-742" class="n c9"><circle cx="464.3" cy="488.7" r="22"/><text x="464.3" y="497.7" font-size="24" textLength="41" lengthAdjust="spacingAndGlyphs">742</text></g>

<g id="b3-monday" class="n c14"><circle cx="643" cy="338.7" r="23"/><text x="643" y="343.9" font-size="14" textLength="43.6" lengthAdjust="spacingAndGlyphs">MONDAY</text></g>
<g id="b3-cvc" class="n c14"><circle cx="740.4" cy="342" r="26"/><text x="740.4" y="334" font-size="8.5" textLength="35" lengthAdjust="spacingAndGlyphs">CHARLES</text><text x="740.4" y="342.3" font-size="8.5" textLength="14" lengthAdjust="spacingAndGlyphs">V'S</text><text x="740.4" y="350.7" font-size="8.5" textLength="50.7" lengthAdjust="spacingAndGlyphs">CORONATION</text></g>
<g id="b3-charlesv" class="n c14"><circle cx="795.4" cy="366.2" r="23"/><text x="795.4" y="368.3" font-size="11.5" textLength="43" lengthAdjust="spacingAndGlyphs">CHARLES</text><text x="795.4" y="380" font-size="11.5">V</text></g>
<g id="b3-dec25" class="n c14"><circle cx="593" cy="414.2" r="23"/><text x="593" y="413.7" font-size="10.5" textLength="43.6" lengthAdjust="spacingAndGlyphs">DECEMBER</text><text x="593" y="424" font-size="10.5">25</text></g>
<g id="b3-xmasday" class="n c14"><circle cx="653.2" cy="488.7" r="23"/><text x="653.2" y="490.8" font-size="10" textLength="45" lengthAdjust="spacingAndGlyphs">CHRISTMAS</text><text x="653.2" y="501.8" font-size="10" textLength="15" lengthAdjust="spacingAndGlyphs">DAY</text></g>
<g id="b3-hre" class="n c14"><circle cx="710" cy="488.3" r="23"/><text x="710" y="477.7" font-size="10.5" textLength="22.5" lengthAdjust="spacingAndGlyphs">HOLY</text><text x="710" y="488.7" font-size="10.5" textLength="31.4" lengthAdjust="spacingAndGlyphs">ROMAN</text><text x="710" y="499.4" font-size="10.5" textLength="43.6" lengthAdjust="spacingAndGlyphs">EMPEROR</text></g>

<g id="b4-coc" class="n c19"><circle cx="978.6" cy="361" r="28"/><text x="978.6" y="358" font-size="8.5" textLength="52" lengthAdjust="spacingAndGlyphs">CORONATION</text><text x="978.6" y="367" font-size="8.5">OF</text><text x="978.6" y="375.7" font-size="8.5" textLength="35" lengthAdjust="spacingAndGlyphs">CHARLES</text></g>
<g id="b4-dec25" class="n c19"><circle cx="870.7" cy="415.5" r="23"/><text x="870.7" y="416.4" font-size="10.5" textLength="43" lengthAdjust="spacingAndGlyphs">DECEMBER</text><text x="870.7" y="427" font-size="10.5">25</text></g>
<g id="b4-christmas" class="n c19"><circle cx="1070" cy="490.5" r="23"/><text x="1070" y="494.3" font-size="11.5" textLength="45" lengthAdjust="spacingAndGlyphs">CHRISTMAS</text></g>

<g id="b5-nyd" class="n c23"><circle cx="1224.3" cy="339.2" r="22.5"/><text x="1224.3" y="332.3" font-size="11.5" textLength="26" lengthAdjust="spacingAndGlyphs">NEW</text><text x="1224.3" y="344" font-size="11.5" textLength="42" lengthAdjust="spacingAndGlyphs">YEAR'S</text><text x="1224.3" y="355.7" font-size="11.5" textLength="21" lengthAdjust="spacingAndGlyphs">DAY</text></g>
<g id="b5-jan1" class="n c23"><circle cx="1348.7" cy="368.8" r="22.5"/><text x="1348.7" y="370.5" font-size="11" textLength="43" lengthAdjust="spacingAndGlyphs">JANUARY</text><text x="1348.7" y="383.1" font-size="11">1</text></g>
<g id="b5-dec25" class="n c23"><circle cx="1148.3" cy="415.2" r="22.5"/><text x="1148.3" y="418" font-size="10.5" textLength="43" lengthAdjust="spacingAndGlyphs">DECEMBER</text><text x="1148.3" y="428.7" font-size="10.5">25</text></g>
<g id="b5-christmas" class="n c23"><circle cx="1224.3" cy="490.5" r="22.5"/><text x="1224.3" y="494.5" font-size="11" textLength="43" lengthAdjust="spacingAndGlyphs">CHRISTMAS</text></g>
<g id="b5-he" class="n c23"><circle cx="1348.7" cy="462.2" r="22.5"/><text x="1348.7" y="464" font-size="9.5" textLength="44" lengthAdjust="spacingAndGlyphs">HISTORICAL</text><text x="1348.7" y="474.3" font-size="9.5" textLength="25" lengthAdjust="spacingAndGlyphs">EVENT</text></g>

<g id="b6-hf" class="n ci"><circle cx="1500.9" cy="339.5" r="22.5"/><text x="1500.9" y="338.5" font-size="8" textLength="42" lengthAdjust="spacingAndGlyphs">HISTORICAL</text><text x="1500.9" y="347.8" font-size="8" textLength="22" lengthAdjust="spacingAndGlyphs">FIGURE</text></g>
<g id="b6-emperor" class="n ci"><circle cx="1623.3" cy="352.2" r="22.5"/><text x="1623.3" y="355.2" font-size="10" textLength="41" lengthAdjust="spacingAndGlyphs">EMPEROR</text></g>
<g id="b6-1225" class="n ci"><circle cx="1425.2" cy="413.3" r="22"/><text x="1425.2" y="418.9" font-size="16" textLength="39" lengthAdjust="spacingAndGlyphs">12/25</text></g>
<g id="b6-cday" class="n ci"><circle cx="1504.3" cy="487.2" r="25"/><text x="1504.3" y="488.3" font-size="9.5" textLength="45" lengthAdjust="spacingAndGlyphs">CHRISTMAS</text><text x="1504.3" y="497.6" font-size="9.5" textLength="15" lengthAdjust="spacingAndGlyphs">DAY</text></g>
<g id="b6-charlemagne" class="n ci"><circle cx="1618.8" cy="467.5" r="34"/><text x="1618.8" y="471.5" font-size="12" textLength="64" lengthAdjust="spacingAndGlyphs">CHARLEMAGNE</text></g>

<g id="c1-lucas" class="n c3"><circle cx="124.8" cy="632.5" r="22.5"/><text x="124.8" y="636.7" font-size="12.5" textLength="34" lengthAdjust="spacingAndGlyphs">LUCAS</text></g>
<g id="c1-georgelucas" class="n c3"><circle cx="49.1" cy="678.5" r="22.5"/><text x="49.1" y="680" font-size="11.5" textLength="39" lengthAdjust="spacingAndGlyphs">GEORGE</text><text x="49.1" y="690" font-size="11.5" textLength="34" lengthAdjust="spacingAndGlyphs">LUCAS</text></g>
<g id="c1-starwars" class="n c3"><circle cx="224.5" cy="707.5" r="22.5"/><text x="224.5" y="705.4" font-size="12.5" textLength="27" lengthAdjust="spacingAndGlyphs">STAR</text><text x="224.5" y="717.7" font-size="12.5" textLength="31" lengthAdjust="spacingAndGlyphs">WARS</text></g>
<g id="c1-filmmaker" class="n c3"><circle cx="149.1" cy="753.5" r="22.5"/><text x="149.1" y="750.4" font-size="12.5" textLength="23" lengthAdjust="spacingAndGlyphs">FILM</text><text x="149.1" y="762.7" font-size="12.5" textLength="36.4" lengthAdjust="spacingAndGlyphs">MAKER</text></g>

<g id="c2-filmcompany" class="n c9"><circle cx="508.4" cy="627.5" r="22.5"/><text x="508.4" y="625.4" font-size="10.5" textLength="20" lengthAdjust="spacingAndGlyphs">FILM</text><text x="508.4" y="634.7" font-size="10.5" textLength="44" lengthAdjust="spacingAndGlyphs">COMPANY</text></g>
<g id="c2-ilm" class="n c9d"><circle cx="409.5" cy="655.2" r="19.5"/><text x="409.5" y="661.5" font-size="18.5" textLength="30" lengthAdjust="spacingAndGlyphs">ILM</text></g>
<g id="c2-ilmagic" class="n c9"><circle cx="318.9" cy="684.7" r="30"/><text x="318.9" y="677.3" font-size="9.5" textLength="53.6" lengthAdjust="spacingAndGlyphs">INDUSTRIAL</text><text x="318.9" y="687.3" font-size="9.5" textLength="27" lengthAdjust="spacingAndGlyphs">LIGHT</text><text x="318.9" y="697.3" font-size="9.5">&amp;</text><text x="318.9" y="707.3" font-size="9.5" textLength="29" lengthAdjust="spacingAndGlyphs">MAGIC</text></g>
<g id="c2-georgelucas" class="n c9"><circle cx="514.8" cy="736.7" r="22.5"/><text x="514.8" y="735" font-size="11.5" textLength="40" lengthAdjust="spacingAndGlyphs">GEORGE</text><text x="514.8" y="746.7" font-size="11.5" textLength="31" lengthAdjust="spacingAndGlyphs">LUCAS</text></g>
<g id="c2-company" class="n c9"><circle cx="390.2" cy="764.8" r="22.5"/><text x="390.2" y="768.4" font-size="10.5" textLength="41" lengthAdjust="spacingAndGlyphs">COMPANY</text></g>

<g id="c3-industry" class="n c14"><circle cx="655.5" cy="636.2" r="22"/><text x="655.5" y="638.9" font-size="11" textLength="42" lengthAdjust="spacingAndGlyphs">INDUSTRY</text></g>
<g id="c3-film" class="n c14"><circle cx="779.8" cy="664.8" r="22.5"/><text x="779.8" y="671.3" font-size="18" textLength="37.5" lengthAdjust="spacingAndGlyphs">FILM</text></g>
<g id="c3-glfc" class="n c14"><circle cx="596.3" cy="687.5" r="27.5"/><text x="596.3" y="676.2" font-size="10" textLength="37.5" lengthAdjust="spacingAndGlyphs">GEORGE</text><text x="596.3" y="686.2" font-size="10" textLength="28.6" lengthAdjust="spacingAndGlyphs">LUCAS</text><text x="596.3" y="696.2" font-size="10" textLength="19.6" lengthAdjust="spacingAndGlyphs">FILM</text><text x="596.3" y="706.2" font-size="10" textLength="44" lengthAdjust="spacingAndGlyphs">COMPANY</text></g>
<g id="c3-georgelucas" class="n c14"><circle cx="793" cy="735.2" r="22.5"/><text x="793" y="734" font-size="11.5" textLength="40" lengthAdjust="spacingAndGlyphs">GEORGE</text><text x="793" y="745" font-size="11.5" textLength="30" lengthAdjust="spacingAndGlyphs">LUCAS</text></g>
<g id="c3-company" class="n c14"><circle cx="669.1" cy="764.2" r="22.5"/><text x="669.1" y="768.3" font-size="11.5" textLength="42.5" lengthAdjust="spacingAndGlyphs">COMPANY</text></g>

<g id="c4-lucasfilm" class="n c19"><circle cx="922.7" cy="612.5" r="22.5"/><text x="922.7" y="615.8" font-size="10" textLength="42" lengthAdjust="spacingAndGlyphs">LUCASFILM</text></g>
<g id="c4-filmstudio" class="n c19"><circle cx="1023.4" cy="612.5" r="22.5"/><text x="1023.4" y="609.8" font-size="11" textLength="22.5" lengthAdjust="spacingAndGlyphs">FILM</text><text x="1023.4" y="620.4" font-size="11" textLength="40.7" lengthAdjust="spacingAndGlyphs">STUDIO</text></g>
<g id="c4-company" class="n c19"><circle cx="952.9" cy="692.2" r="20"/><text x="952.9" y="695.2" font-size="10" textLength="38" lengthAdjust="spacingAndGlyphs">COMPANY</text></g>
<g id="c4-ilm" class="n c19"><circle cx="1073.9" cy="687.5" r="23.5"/><text x="1073.9" y="694.7" font-size="23" textLength="37.5" lengthAdjust="spacingAndGlyphs">ILM</text></g>
<g id="c4-ilmagic" class="n c19"><circle cx="880.2" cy="752.2" r="27.5"/><text x="880.2" y="744.9" font-size="9" textLength="46.4" lengthAdjust="spacingAndGlyphs">INDUSTRIAL</text><text x="880.2" y="754.2" font-size="9" textLength="22.5" lengthAdjust="spacingAndGlyphs">LIGHT</text><text x="880.2" y="763.9" font-size="9">&amp;</text><text x="880.2" y="773.2" font-size="9" textLength="25.7" lengthAdjust="spacingAndGlyphs">MAGIC</text></g>
<g id="c4-georgelucas" class="n c19"><circle cx="1019.8" cy="748.8" r="22.5"/><text x="1019.8" y="747.5" font-size="12" textLength="39.3" lengthAdjust="spacingAndGlyphs">GEORGE</text><text x="1019.8" y="758.5" font-size="12" textLength="31" lengthAdjust="spacingAndGlyphs">LUCAS</text></g>

<g id="c5-film" class="n c23"><circle cx="1350.1" cy="612.5" r="22"/><text x="1350.1" y="618" font-size="18" textLength="36" lengthAdjust="spacingAndGlyphs">FILM</text></g>
<g id="c5-georgelucas" class="n c23"><circle cx="1149.7" cy="687.5" r="22"/><text x="1149.7" y="687.1" font-size="11" textLength="40" lengthAdjust="spacingAndGlyphs">GEORGE</text><text x="1149.7" y="697.8" font-size="11" textLength="31.5" lengthAdjust="spacingAndGlyphs">LUCAS</text></g>
<g id="c5-company" class="n c23"><circle cx="1349.9" cy="763" r="22.5"/><text x="1349.9" y="764.4" font-size="10.5" textLength="41" lengthAdjust="spacingAndGlyphs">COMPANY</text></g>

<g id="c6-vec" class="n ci"><circle cx="1497.7" cy="632.8" r="24"/><text x="1497.7" y="624.2" font-size="10" textLength="31" lengthAdjust="spacingAndGlyphs">VISUAL</text><text x="1497.7" y="634.2" font-size="10" textLength="37" lengthAdjust="spacingAndGlyphs">EFFECTS</text><text x="1497.7" y="644.2" font-size="10" textLength="44" lengthAdjust="spacingAndGlyphs">COMPANY</text></g>
<g id="c6-georgelucas" class="n ci"><circle cx="1424.7" cy="669.2" r="22.5"/><text x="1424.7" y="668.8" font-size="11" textLength="37" lengthAdjust="spacingAndGlyphs">GEORGE</text><text x="1424.7" y="680.5" font-size="11" textLength="28.6" lengthAdjust="spacingAndGlyphs">LUCAS</text></g>
<g id="c6-ilmagic" class="n ci"><circle cx="1604.5" cy="700.3" r="30"/><text x="1604.5" y="692.8" font-size="10" textLength="51" lengthAdjust="spacingAndGlyphs">INDUSTRIAL</text><text x="1604.5" y="702.8" font-size="10" textLength="25" lengthAdjust="spacingAndGlyphs">LIGHT</text><text x="1604.5" y="712.8" font-size="10">&amp;</text><text x="1604.5" y="722.2" font-size="10" textLength="28.6" lengthAdjust="spacingAndGlyphs">MAGIC</text></g>
<g id="c6-companyfounder" class="n ci"><circle cx="1524.9" cy="744.2" r="22.5"/><text x="1524.9" y="743.2" font-size="9" textLength="39" lengthAdjust="spacingAndGlyphs">COMPANY</text><text x="1524.9" y="752.2" font-size="9" textLength="37.6" lengthAdjust="spacingAndGlyphs">FOUNDER</text></g>
</svg>
